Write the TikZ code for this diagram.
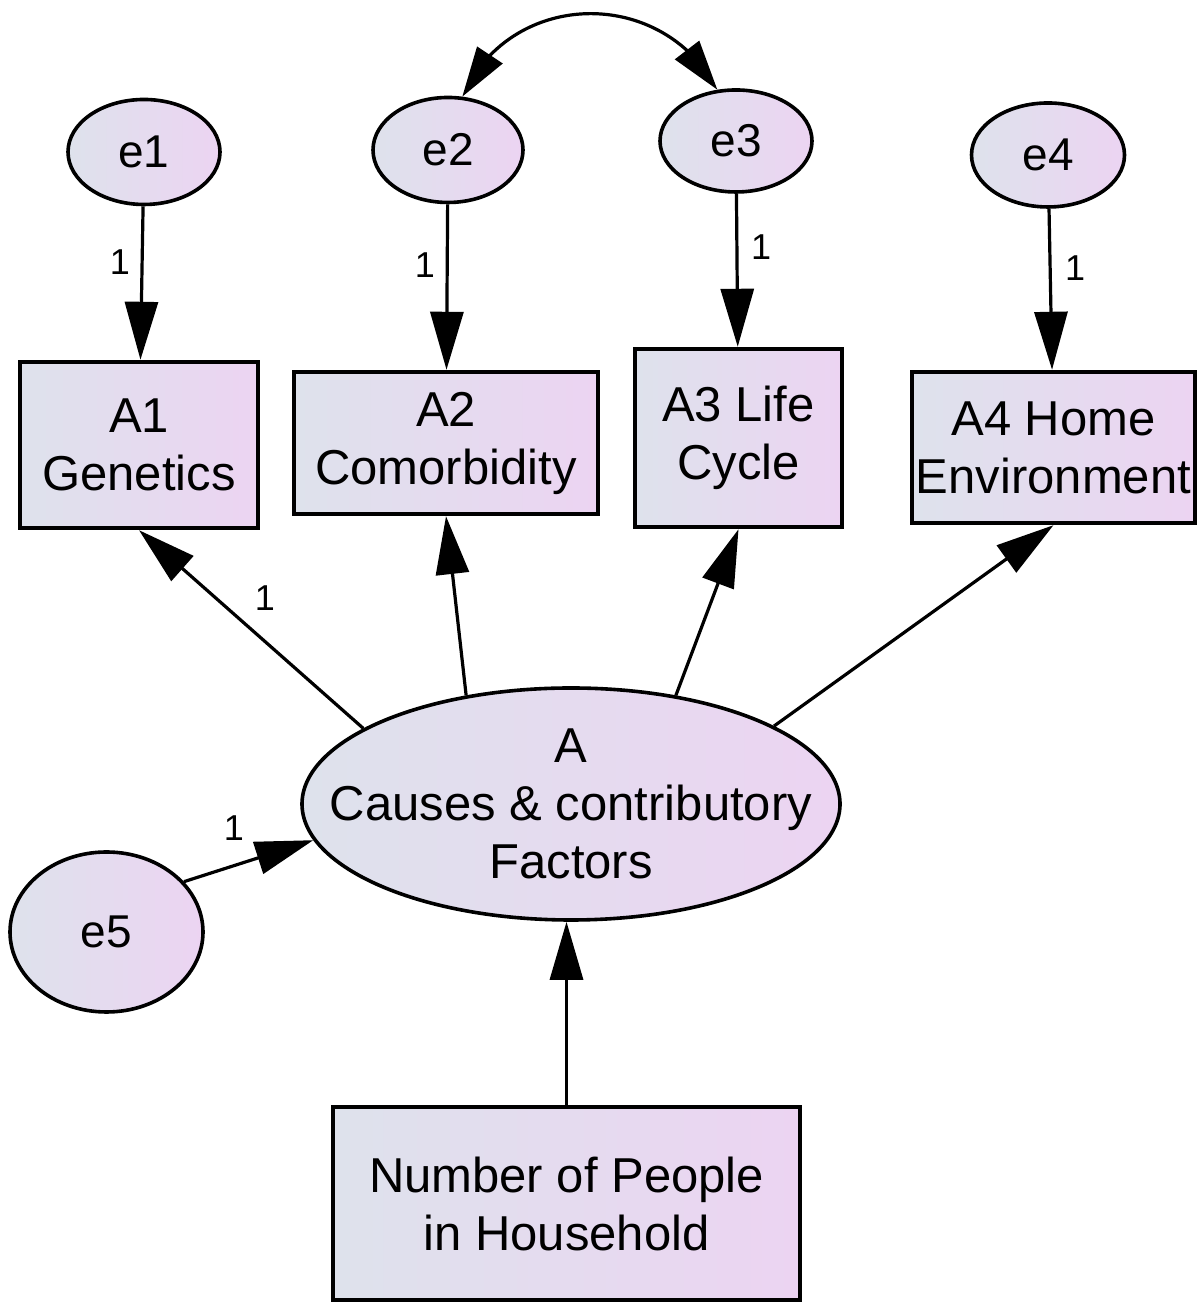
\documentclass[tikz,border=0pt]{standalone}
\usepackage{fontspec}
\setmainfont{Liberation Sans}
\usetikzlibrary{arrows.meta,bending,shapes.geometric}
\definecolor{shadeL}{RGB}{222,226,236}
\definecolor{shadeR}{RGB}{236,212,242}
\newcommand\txtbig{\fontsize{24.5}{29}\selectfont}

\begin{document}
\begin{tikzpicture}[x=0.5pt,y=0.5pt,
  obsbox/.style={rectangle, draw, line width=2.2pt, inner sep=0pt,
    left color=shadeL, right color=shadeR, align=center, font=\txtbig},
  errnode/.style={ellipse, draw, line width=1.8pt, inner sep=0pt,
    left color=shadeL, right color=shadeR, font=\fontsize{23}{28}\selectfont},
  conn/.style={line width=1.6pt, -{Triangle[length=29pt,width=16.5pt]}},
  covtip/.style={line width=1.6pt,
    {Triangle[length=25pt,width=15pt]}-{Triangle[length=25pt,width=15pt]}},
  one/.style={font=\fontsize{18}{20}\selectfont, inner sep=0pt}
]
\fill[white] (0,0) rectangle (1203,1304);
\useasboundingbox (0,0) rectangle (1203,1304);

% observed indicators
\node[obsbox, minimum width=119pt, minimum height=83pt] (A1) at (139,859) {A1\\Genetics};
\node[obsbox, minimum width=152pt, minimum height=71pt] (A2) at (446,861) {A2\\Comorbidity};
\node[obsbox, minimum width=103.5pt, minimum height=89pt] (A3) at (738.5,866) {A3 Life\\Cycle};
\node[obsbox, minimum width=141.5pt, minimum height=75.5pt] (A4) at (1053.5,856.5) {A4 Home\\Environment};
\node[obsbox, minimum width=233.5pt, minimum height=96.5pt] (N) at (566.5,100.5) {Number of People\\in Household};

% error terms
\node[errnode, minimum width=76pt, minimum height=52.5pt] (e1) at (144,1152) {e1};
\node[errnode, minimum width=75pt, minimum height=52.5pt] (e2) at (448,1154) {e2};
\node[errnode, minimum width=76pt, minimum height=51pt] (e3) at (736,1163) {e3};
\node[errnode, minimum width=76.5pt, minimum height=52pt] (e4) at (1048,1149) {e4};
\node[errnode, minimum width=96.5pt, minimum height=80pt] (e5) at (106.5,372) {e5};

% latent factor
\node[errnode, minimum width=269pt, minimum height=116pt,
  label={[name=Atext, align=center, font=\txtbig]center:A\\Causes \& contributory\\Factors}] (A) at (571,500) {};

% regression paths
\draw[conn] (e1) -- (A1);
\draw[conn] (e2) -- (A2);
\draw[conn] (e3) -- (A3);
\draw[conn] (e4) -- (A4);
\draw[conn] (A.160) -- (A1.south);
\draw[conn] (A.134) -- (A2.south);
\draw[conn] (A.46) -- (A3.south);
\draw[conn] (A.21) -- (A4.south);
\draw[conn] (e5.33) -- (A.188);
\draw[conn] (N.north) -- (N.north |- A.south);

% covariance between e2 and e3
\draw[covtip] (e2.75) .. controls +(66:118) and +(118:118) .. (e3.110);

% fixed weights
\node[one] (w1) at (120,1042) {1};
\node[one] (w2) at (425,1039) {1};
\node[one] (w3) at (761,1057) {1};
\node[one] (w4) at (1075,1036) {1};
\node[one] (w5) at (265,706) {1};
\node[one] (w6) at (234,476) {1};
\end{tikzpicture}
\end{document}
